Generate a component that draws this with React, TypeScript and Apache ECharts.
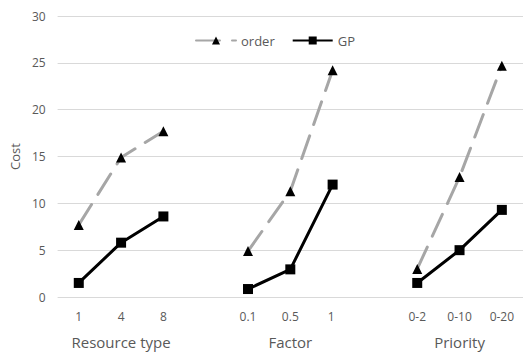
import React, { useEffect, useRef } from "react";
import * as echarts from "echarts";

const categories = ["1", "4", "8", "", "0.1", "0.5", "1 ", " ", "0-2", "0-10", "0-20"];
const groupLabels = ["", "Resource type", "", "", "", "Factor", "", "", "", "Priority", ""];
const orderValues = [7.7, 14.9, 17.7, null, 4.9, 11.3, 24.2, null, 3.0, 12.8, 24.7];
const gpValues = [1.5, 5.8, 8.6, null, 0.85, 2.95, 12.0, null, 1.5, 5.0, 9.3];
const yTicks = { min: 0, max: 30, interval: 5 };

const FONT = "'Open Sans', 'Liberation Sans', sans-serif";

export default function App() {
  const ref = useRef<HTMLDivElement>(null);
  useEffect(() => {
    const chart = echarts.init(ref.current!, null, { renderer: "svg" });
    chart.setOption({
      animation: false,
      textStyle: { fontFamily: FONT },
      grid: { left: 55, right: -7, top: 16, bottom: 59, containLabel: false },
      legend: {
        left: 190,
        top: 29,
        itemWidth: 40,
        itemHeight: 10,
        itemGap: 17,
        textStyle: { color: "#595959", fontSize: 13, fontFamily: FONT },
        data: ["order", "GP"],
      },
      xAxis: [
        {
          type: "category",
          data: categories,
          boundaryGap: true,
          axisLine: { show: false },
          axisTick: { show: false },
          axisLabel: { color: "#595959", fontSize: 12, margin: 13, interval: 0 },
        },
        {
          type: "category",
          data: groupLabels,
          position: "bottom",
          offset: 26,
          boundaryGap: true,
          axisLine: { show: false },
          axisTick: { show: false },
          axisLabel: { color: "#595959", fontSize: 15, margin: 11, interval: 0 },
        },
      ],
      yAxis: {
        type: "value",
        min: yTicks.min,
        max: yTicks.max,
        interval: yTicks.interval,
        name: "Cost",
        nameLocation: "middle",
        nameGap: 34,
        nameTextStyle: { color: "#595959", fontSize: 13 },
        axisLine: { show: false },
        axisTick: { show: false },
        axisLabel: { color: "#595959", fontSize: 12, margin: 12 },
        splitLine: { lineStyle: { color: "#d9d9d9", width: 1 } },
      },
      series: [
        {
          name: "order",
          type: "line",
          data: orderValues,
          connectNulls: false,
          symbol: "triangle",
          symbolSize: 10,
          itemStyle: { color: "#000000" },
          lineStyle: { color: "#a6a6a6", width: 3, type: [24, 12], cap: "round" },
          z: 2,
        },
        {
          name: "GP",
          type: "line",
          data: gpValues,
          connectNulls: false,
          symbol: "rect",
          symbolSize: 10,
          itemStyle: { color: "#000000" },
          lineStyle: { color: "#000000", width: 3 },
          z: 3,
        },
      ],
    });
    return () => chart.dispose();
  }, []);
  return (
    <div
      ref={ref}
      style={{ position: "absolute", left: 0, top: 0, width: 523, height: 356, background: "#fff" }}
    />
  );
}
